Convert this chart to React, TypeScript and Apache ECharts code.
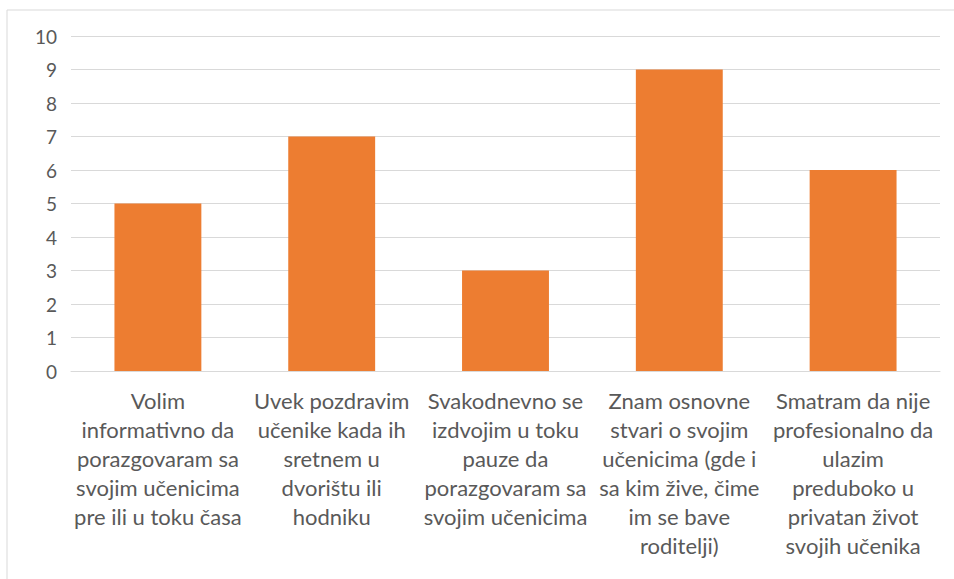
import React, { useEffect, useRef } from "react";
import * as echarts from "echarts";

const categories = [
  "Volim\ninformativno da\nporazgovaram sa\nsvojim učenicima\npre ili u toku časa",
  "Uvek pozdravim\nučenike kada ih\nsretnem u\ndvorištu ili\nhodniku",
  "Svakodnevno se\nizdvojim u toku\npauze da\nporazgovaram sa\nsvojim učenicima",
  "Znam osnovne\nstvari o svojim\nučenicima (gde i\nsa kim žive, čime\nim se bave\nroditelji)",
  "Smatram da nije\nprofesionalno da\nulazim\npreduboko u\nprivatan život\nsvojih učenika",
];
const values = [5, 7, 3, 9, 6];

export default function App() {
  const ref = useRef<HTMLDivElement>(null);
  useEffect(() => {
    const chart = echarts.init(ref.current!, undefined, { renderer: "svg" });
    chart.setOption({
      animation: false,
      backgroundColor: "#ffffff",
      textStyle: { fontFamily: "Lato" },
      graphic: [
        {
          type: "rect",
          shape: { x: 7, y: 10, width: 1000, height: 1000 },
          style: { fill: "none", stroke: "#d9d9d9", lineWidth: 1 },
          silent: true,
        },
      ],
      grid: { left: 71, right: 14, top: 36, bottom: 208, containLabel: false },
      xAxis: {
        type: "category",
        data: categories,
        axisLine: { lineStyle: { color: "#d9d9d9", width: 1 } },
        axisTick: { show: false },
        axisLabel: {
          interval: 0,
          color: "#595959",
          fontSize: 22,
          lineHeight: 29,
          margin: 15,
          fontFamily: "Lato",
        },
      },
      yAxis: {
        type: "value",
        min: 0,
        max: 10,
        interval: 1,
        axisLine: { show: false },
        axisTick: { show: false },
        splitLine: { lineStyle: { color: "#d9d9d9", width: 1 } },
        axisLabel: { color: "#595959", fontSize: 19, margin: 14, fontFamily: "Lato" },
      },
      series: [
        {
          type: "bar",
          data: values,
          barWidth: "50%",
          itemStyle: { color: "#ed7d31" },
        },
      ],
    });
    return () => chart.dispose();
  }, []);
  return (
    <div
      ref={ref}
      style={{ position: "absolute", left: 0, top: 0, width: 954, height: 579 }}
    />
  );
}
